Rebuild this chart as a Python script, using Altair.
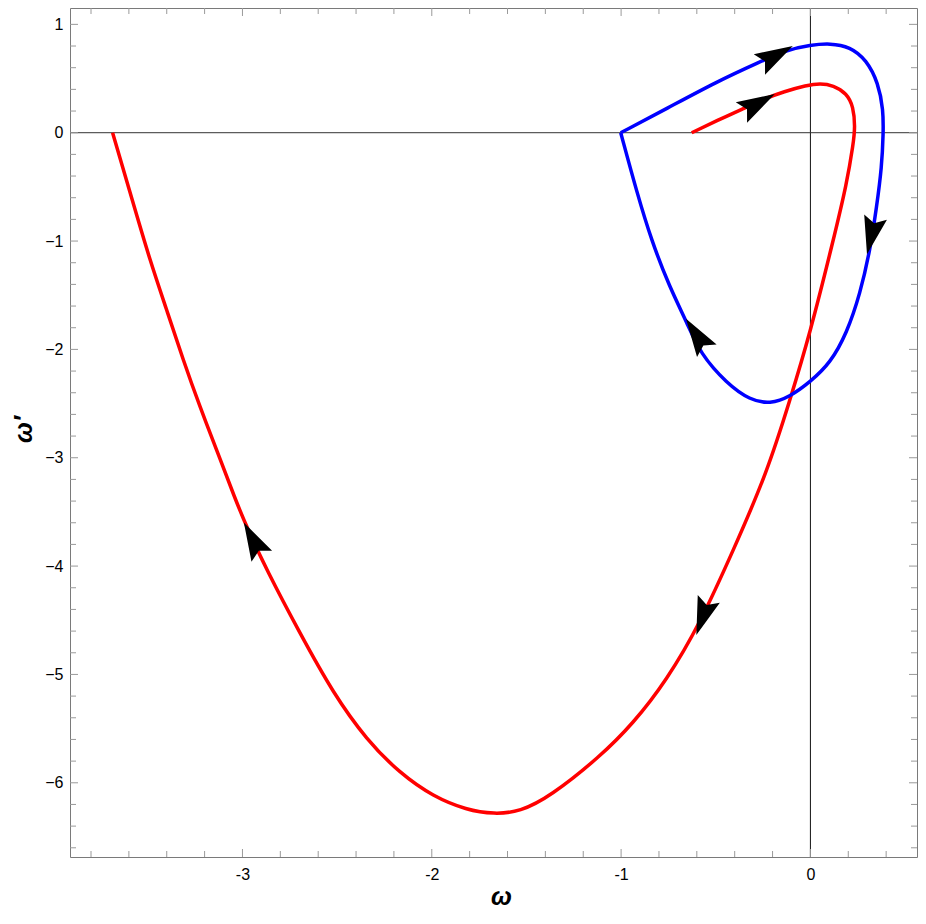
import altair as alt
import pandas as pd

# ---- data ----
red_x = [-0.627, -0.495, -0.354, -0.231, -0.143, -0.020, 0.051, 0.121, 0.192, 0.227, 0.236,
         0.227, 0.192, 0.121, -0.002, -0.108, -0.231, -0.407, -0.583, -0.759,
         -0.936, -1.111, -1.376, -1.534, -1.670, -1.816, -1.992, -2.168, -2.344, -2.520, -2.696,
         -2.872, -2.978, -3.040, -3.136, -3.225, -3.313, -3.400, -3.489, -3.577, -3.686]
red_y = [0.0, 0.111, 0.223, 0.321, 0.377, 0.438, 0.456, 0.438, 0.363, 0.240, 0.055,
         -0.099, -0.469, -0.992, -1.852, -2.468, -3.146, -3.853, -4.530, -5.053,
         -5.452, -5.759, -6.128, -6.267, -6.290, -6.251, -6.128, -5.913, -5.605, -5.176, -4.622,
         -4.038, -3.638, -3.374, -2.929, -2.529, -2.098, -1.636, -1.177, -0.652, 0.0]

blue_x = [-1.002, -0.759, -0.495, -0.266, -0.125, 0.0, 0.104, 0.209, 0.297, 0.359, 0.385,
          0.385, 0.377, 0.350, 0.315, 0.263, 0.192, 0.104, 0.0, -0.108, -0.213, -0.319,
          -0.442, -0.583, -0.650, -0.745, -0.840, -0.915, -1.002]
blue_y = [0.0, 0.223, 0.471, 0.655, 0.763, 0.809, 0.825, 0.794, 0.671, 0.456, 0.210,
          -0.006, -0.314, -0.683, -1.083, -1.484, -1.852, -2.129, -2.298, -2.437, -2.504, -2.468,
          -2.314, -2.037, -1.760, -1.421, -0.992, -0.561, 0.0]

arrow_x = [-0.286, -0.191, 0.324, -0.596, -2.940, -0.566]
arrow_y = [0.263, 0.706, -0.932, -1.881, -3.771, -4.451]
arrow_angle = [61, 61, 193, 327, 332, 199]

x_major = [-3, -2, -1, 0]
y_major = [-6, -5, -4, -3, -2, -1, 0, 1]
x_minor = [-3.8, -3.6, -3.4, -3.2, -2.8, -2.6, -2.4, -2.2, -1.8, -1.6, -1.4, -1.2,
           -0.8, -0.6, -0.4, -0.2, 0.2, 0.4]
y_minor = [-6.6, -6.4, -6.2, -5.8, -5.6, -5.4, -5.2, -4.8, -4.6, -4.4, -4.2, -3.8, -3.6,
           -3.4, -3.2, -2.8, -2.6, -2.4, -2.2, -1.8, -1.6, -1.4, -1.2, -0.8, -0.6, -0.4,
           -0.2, 0.2, 0.4, 0.6, 0.8]

# ---- layout ----
W, H = 847, 849
X_DOMAIN = [-3.911, 0.563]
Y_DOMAIN = [-6.685, 1.151]
MAJ, MIN = 8, 6
FRAME = "#7a7a7a"
TICK = "#9a9a9a"

xs = alt.Scale(domain=X_DOMAIN, nice=False, zero=False)
ys = alt.Scale(domain=Y_DOMAIN, nice=False, zero=False)

curves = pd.DataFrame(
    [{"x": x, "y": y, "series": "red", "i": i} for i, (x, y) in enumerate(zip(red_x, red_y))]
    + [{"x": x, "y": y, "series": "blue", "i": i} for i, (x, y) in enumerate(zip(blue_x, blue_y))]
)
arrows = pd.DataFrame({"x": arrow_x, "y": arrow_y, "a": arrow_angle})

xaxis = alt.Axis(values=x_major, format="d", labelExpr="replace(datum.label, '\u2212', '-')",
                 ticks=False, domain=False, grid=False, labelFont="Liberation Sans",
                 labelFontSize=16, labelColor="black", labelPadding=9,
                 titleFont="Liberation Sans", titleFontSize=25, titleFontWeight="bold",
                 titleFontStyle="italic", titleColor="black",
                 titleX=431, titleY=47, titleBaseline="alphabetic", titleAlign="center")
yaxis = alt.Axis(values=y_major, format="d", ticks=False, domain=False, grid=False,
                 labelFont="Liberation Sans", labelFontSize=16, labelColor="black",
                 labelPadding=7, titleFont="Liberation Sans", titleFontSize=25,
                 titleFontWeight="bold", titleFontStyle="italic", titleColor="black",
                 titleX=-39, titleY=421, titleAngle=270, titleBaseline="alphabetic",
                 titleAlign="center")
XT, YT = "ω", "ω′"


def X(field):
    return alt.X(field, scale=xs, axis=xaxis, title=XT)


def Y(field):
    return alt.Y(field, scale=ys, axis=yaxis, title=YT)


lines = alt.Chart(curves).mark_line(strokeWidth=3.5, interpolate="basis").encode(
    x=X("x:Q"),
    y=Y("y:Q"),
    color=alt.Color("series:N", scale=alt.Scale(domain=["red", "blue"], range=["#ff0000", "#0000ff"]), legend=None),
    detail="series:N",
    order="i:Q",
)

zero_x = alt.Chart(pd.DataFrame({"v": [0]})).mark_rule(color="#111", strokeWidth=1).encode(x=X("v:Q"))
zero_y = alt.Chart(pd.DataFrame({"v": [0]})).mark_rule(color="#333", strokeWidth=1).encode(y=Y("v:Q"))

arrow_path = "M0,-1L0.55,0.8L0,0.5L-0.55,0.8Z"
arrow_layer = alt.Chart(arrows).mark_point(shape=arrow_path, filled=True, color="black",
                                           opacity=1, size=1800, strokeWidth=0).encode(
    x=X("x:Q"),
    y=Y("y:Q"),
    angle=alt.Angle("a:Q", scale=None),
)


def xticks(vals, length, top):
    df = pd.DataFrame({"v": vals})
    if top:
        y1, y2 = 0, length
    else:
        y1, y2 = H, H - length
    return alt.Chart(df).mark_rule(color=TICK, strokeWidth=1).encode(
        x=X("v:Q"), y=alt.value(y1), y2=alt.value(y2))


def yticks(vals, length, left):
    df = pd.DataFrame({"v": vals})
    if left:
        x1, x2 = 0, length
    else:
        x1, x2 = W, W - length
    return alt.Chart(df).mark_rule(color=TICK, strokeWidth=1).encode(
        y=Y("v:Q"), x=alt.value(x1), x2=alt.value(x2))


ticks = [
    xticks(x_major, MAJ, False), xticks(x_minor, MIN, False),
    xticks(x_major, MAJ, True), xticks(x_minor, MIN, True),
    yticks(y_major, MAJ, True), yticks(y_minor, MIN, True),
    yticks(y_major, MAJ, False), yticks(y_minor, MIN, False),
]

chart = alt.layer(zero_x, zero_y, lines, arrow_layer, *ticks).properties(
    width=W, height=H,
    autosize=alt.AutoSizeParams(type="none"),
    padding={"left": 62, "top": 0, "right": 1, "bottom": 53},
).configure_view(stroke=FRAME, strokeWidth=1)

chart.save("out.html", embed_options={"renderer": "svg", "actions": False})
